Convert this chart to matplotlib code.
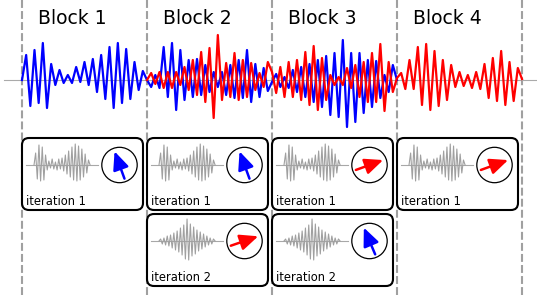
import numpy as np
import matplotlib.pyplot as plt
from matplotlib.patches import FancyBboxPatch, Circle

# signal samples per block (pixel amplitude above the baseline)
blue_b1 = [0, 25, -26, 30, -23, 37, -28, 16, -5, 10, -3, 5, -3, 13, -2, 18, -5, 21, -12, 25,
           -19, 33, -28, 37, -23, 31, -19, 18, -10, 9]
blue_b2 = [0, -7, 5, -8, 33, -17, 37, -30, 30, -20, 20, -17, 21, -15, 15, -12, 8, -7, 8, -15,
           15, -18, 20, -18, 30, -22, 16, -17, 12, -11]
blue_b3 = [-2, 6, -7, 3, -8, 10, -12, 13, -17, 16, -22, 20, -27, 24, -35, 27, -37, 40, -47, 27,
           -42, 27, -33, 20, -27, 19, -18, 5, -12, 15, 0]
red_b2 = [0, 7, -4, 8, -8, 8, -8, 8, -5, 13, -10, 20, -15, 28, -22, 32, -38, 45, -20, 17,
          -17, 27, -20, 20, -17, 17, -10, 7, -7, 18]
red_b3 = [8, -13, 13, -17, 18, -17, 20, -20, 28, -25, 34, -30, 22, -20, 5, -5, 3, -5, 12, -8,
          15, -17, 18, -22, 27, -22, 36, -31, 18, -12]
red_b4 = [2, 7, -9, 20, -9, 33, -25, 36, -30, 29, -26, 20, -20, 15, -7, 8, -6, 5, -8, 8,
          -9, 16, -18, 22, -21, 29, -25, 18, -21, 12, 1]

# small grey thumbnails inside the boxes
thumb_a = [0, 12, -14, 20, -16, 18, -15, 10, -5, 4, -3, 6, -4, 3, -5, 6, -4, 7, -6,
           10, -9, 14, -12, 18, -15, 21, -16, 19, -15, 16, -12, 11, -8, 5, 0]
thumb_b = [0, 2, -3, 3, -4, 5, -5, 6, -7, 8, -9, 10, -11, 13, -14, 16, -18, 22, -19, 17,
           -15, 14, -13, 11, -10, 9, -8, 7, -6, 5, -4, 3, -3, 2, 0]

block_names = ['Block 1', 'Block 2', 'Block 3', 'Block 4']
box_block = [0, 1, 1, 2, 2, 3]
box_row = [0, 0, 1, 0, 1, 0]
box_thumb = ['a', 'a', 'b', 'a', 'b', 'a']
box_label = ['iteration 1', 'iteration 1', 'iteration 2', 'iteration 1', 'iteration 2', 'iteration 1']
arrow_color = ['blue', 'blue', 'red', 'red', 'blue', 'red']
arrow_angle = [110, 110, 19, 20, 113, 20]

# layout in pixels
x0, bw = 22, 125
base_y = 80
step = bw / 30

fig = plt.figure(figsize=(5.37, 2.95), dpi=100)
ax = fig.add_axes([0, 0, 1, 1])
ax.set_xlim(0, 537)
ax.set_ylim(295, 0)
ax.axis('off')

for i in range(5):
    ax.plot([x0 + i * bw] * 2, [0, 295], color='#a0a0a0', lw=1.5, ls=(0, (3.8, 1.5)), zorder=1)

for i, name in enumerate(block_names):
    ax.text(x0 + i * bw + 16, 24, name, fontsize=13.5, va='baseline', ha='left')

ax.plot([4, 537], [base_y, base_y], color='#aaaaaa', lw=0.8, zorder=2)

blue = np.array(blue_b1 + blue_b2 + blue_b3)
red = np.array(red_b2 + red_b3 + red_b4)
ax.plot(x0 + step * np.arange(len(blue)), base_y - blue, color='blue', lw=1.6, zorder=3)
ax.plot(x0 + bw + step * np.arange(len(red)), base_y - red, color='red', lw=1.6, zorder=4)

thumbs = {'a': np.array(thumb_a), 'b': np.array(thumb_b)}
for k in range(len(box_block)):
    left = x0 + box_block[k] * bw
    top = 138 + box_row[k] * 76
    ax.add_patch(FancyBboxPatch((left, top), 121, 72,
                                boxstyle='round,pad=0,rounding_size=7',
                                fc='white', ec='black', lw=1.5, zorder=5))
    cy = top + 27
    ax.plot([left + 4, left + 76], [cy, cy], color='#a8a8a8', lw=0.8, zorder=6)
    t = thumbs[box_thumb[k]]
    ax.plot(left + 12 + 1.65 * np.arange(len(t)), cy - t, color='#a0a0a0', lw=0.8, zorder=6)
    cx = left + 97.5
    ax.add_patch(Circle((cx, cy), 17.7, fc='white', ec='black', lw=0.9, zorder=6))
    a = np.deg2rad(arrow_angle[k])
    dx, dy = 14.5 * np.cos(a), -14.5 * np.sin(a)
    ax.annotate('', xy=(cx + dx, cy + dy), xytext=(cx - dx, cy - dy),
                arrowprops=dict(arrowstyle='-|>,head_length=0.5,head_width=0.22',
                                color=arrow_color[k], lw=1.8, mutation_scale=22,
                                shrinkA=0, shrinkB=0), zorder=7)
    ax.text(left + 4, top + 67, box_label[k], fontsize=8.3, va='baseline', ha='left', zorder=7)

fig.savefig('out.png', dpi=100)
